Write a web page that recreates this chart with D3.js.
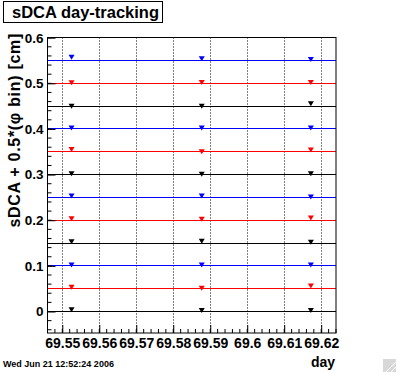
<!DOCTYPE html>
<html>
<head>
<meta charset="utf-8">
<script src="https://cdn.jsdelivr.net/npm/d3@7"></script>
<style>
  body { margin: 0; background: #fff; }
  text { font-family: "Liberation Sans", Arial, sans-serif; font-weight: bold; }
</style>
</head>
<body>
<div id="chart"></div>
<script>
// day positions of the three measurements
const days = [69.5525, 69.5877, 69.6172];

// reference levels (one horizontal line per phi bin)
const levels = [0, 0.05, 0.1, 0.15, 0.2, 0.25, 0.3, 0.35, 0.4, 0.45, 0.5, 0.55];

// measured values at each day, one entry per level
const run1 = [0.004, 0.053, 0.102, 0.153, 0.203, 0.253, 0.302, 0.355, 0.402, 0.450, 0.501, 0.557];
const run2 = [0.002, 0.051, 0.102, 0.154, 0.202, 0.253, 0.301, 0.350, 0.402, 0.450, 0.502, 0.554];
const run3 = [0.002, 0.056, 0.102, 0.152, 0.205, 0.251, 0.302, 0.354, 0.402, 0.455, 0.502, 0.552];

// axis ticks
const xTicks = [69.55, 69.56, 69.57, 69.58, 69.59, 69.6, 69.61, 69.62];
const xTickLabels = ["69.55", "69.56", "69.57", "69.58", "69.59", "69.6", "69.61", "69.62"];
const yTicks = [0, 0.1, 0.2, 0.3, 0.4, 0.5, 0.6];
const yTickLabels = ["0", "0.1", "0.2", "0.3", "0.4", "0.5", "0.6"];

const width = 396;
const height = 372;
const frame = { left: 47.5, right: 336, top: 37.5, bottom: 333 };
const colors = ["#000000", "#ff0000", "#0000ff"];

const svg = d3.select('#chart').append('svg')
  .attr('width', width)
  .attr('height', height);

svg.append('rect').attr('width', width).attr('height', height).attr('fill', '#fff');

const xScale = d3.scaleLinear()
  .domain([69.546, 69.624])
  .range([frame.left, frame.right]);

// 0 sits on row 311, 0.55 on row 60
const yScale = d3.scaleLinear()
  .domain([0, 0.55])
  .range([311.5, 60.5]);

// dotted grid on the day ticks
svg.selectAll('line.grid').data(xTicks)
  .enter().append('line')
  .attr('class', 'grid')
  .attr('x1', d => Math.round(xScale(d)) + 0.5)
  .attr('x2', d => Math.round(xScale(d)) + 0.5)
  .attr('y1', frame.top)
  .attr('y2', frame.bottom)
  .attr('stroke', 'black')
  .attr('stroke-dasharray', '1,2');

// the level lines
svg.selectAll('line.level').data(levels)
  .enter().append('line')
  .attr('class', 'level')
  .attr('x1', frame.left)
  .attr('x2', frame.right)
  .attr('y1', d => Math.floor(yScale(d)) + 0.5)
  .attr('y2', d => Math.floor(yScale(d)) + 0.5)
  .attr('shape-rendering', 'crispEdges')
  .style('stroke', (d, i) => colors[i % 3])
  .style('stroke-width', 1);

// markers (inverted triangles)
const points = [];
[run1, run2, run3].forEach((run, j) => {
  run.forEach((v, i) => points.push({ x: days[j], y: v, c: colors[i % 3] }));
});

svg.selectAll('path.marker').data(points)
  .enter().append('path')
  .attr('class', 'marker')
  .attr('d', 'M-3,-2.5 L3,-2.5 L0,2.5 Z')
  .attr('transform', d => `translate(${xScale(d.x)},${yScale(d.y)})`)
  .attr('fill', d => d.c);

// frame
svg.append('rect')
  .attr('x', frame.left)
  .attr('y', frame.top)
  .attr('width', frame.right - frame.left)
  .attr('height', frame.bottom - frame.top)
  .attr('fill', 'none')
  .attr('stroke', 'black');

// x axis ticks (drawn inside the frame)
const xAxis = d3.axisBottom(xScale)
  .tickValues(xTicks)
  .tickFormat((d, i) => xTickLabels[i])
  .tickSizeInner(-8)
  .tickSizeOuter(0)
  .tickPadding(5);

const gx = svg.append('g')
  .attr('transform', `translate(0,${frame.bottom})`)
  .call(xAxis);
gx.select('.domain').remove();
gx.selectAll('text').attr('font-size', 14).attr('fill', 'black')
  .style('font-family', '"Liberation Sans", Arial, sans-serif').style('font-weight', 'bold');

// x minor ticks every 0.002
const xMinor = d3.range(69.548, 69.6241, 0.002);
svg.selectAll('line.xminor').data(xMinor)
  .enter().append('line')
  .attr('class', 'xminor')
  .attr('x1', d => xScale(d))
  .attr('x2', d => xScale(d))
  .attr('y1', frame.bottom)
  .attr('y2', frame.bottom - 4)
  .attr('stroke', 'black');

// y axis ticks
const yAxis = d3.axisLeft(yScale)
  .tickValues(yTicks)
  .tickFormat((d, i) => yTickLabels[i])
  .tickSizeInner(-8)
  .tickSizeOuter(0)
  .tickPadding(4);

const gy = svg.append('g')
  .attr('transform', `translate(${frame.left},0)`)
  .call(yAxis);
gy.select('.domain').remove();
gy.selectAll('text').attr('font-size', 13.5).attr('fill', 'black')
  .style('font-family', '"Liberation Sans", Arial, sans-serif').style('font-weight', 'bold');

// y minor ticks every 0.02
const yMinor = d3.range(-0.04, 0.601, 0.02);
svg.selectAll('line.yminor').data(yMinor)
  .enter().append('line')
  .attr('class', 'yminor')
  .attr('x1', frame.left)
  .attr('x2', frame.left + 4)
  .attr('y1', d => yScale(d))
  .attr('y2', d => yScale(d))
  .attr('stroke', 'black');

// axis titles
svg.append('text')
  .attr('x', frame.right - 1)
  .attr('y', 367)
  .attr('text-anchor', 'end')
  .attr('font-size', 14)
  .text('day');

svg.append('text')
  .attr('transform', 'translate(20,33) rotate(-90)')
  .attr('text-anchor', 'end')
  .attr('font-size', 16)
  .attr('letter-spacing', 0.7)
  .text('sDCA + 0.5*(\u03c6 bin) [cm]');

// title box
svg.append('rect')
  .attr('x', 3.5).attr('y', 1.5)
  .attr('width', 159).attr('height', 21)
  .attr('fill', '#fff').attr('stroke', 'black');

svg.append('text')
  .attr('x', 12)
  .attr('y', 17.5)
  .attr('font-size', 16.5)
  .text('sDCA day-tracking');

// date stamp
svg.append('text')
  .attr('x', 3)
  .attr('y', 367)
  .attr('font-size', 9)
  .text('Wed Jun 21 12:52:24 2006');

// resize grip in the corner
const grip = svg.append('g').attr('transform', 'translate(383,359)');
grip.append('rect').attr('width', 13).attr('height', 13).attr('fill', '#d8d8d8');
grip.append('line').attr('x1', 3).attr('y1', 13).attr('x2', 13).attr('y2', 3).attr('stroke', '#fff');
grip.append('line').attr('x1', 8).attr('y1', 13).attr('x2', 13).attr('y2', 8).attr('stroke', '#fff');
</script>
</body>
</html>
